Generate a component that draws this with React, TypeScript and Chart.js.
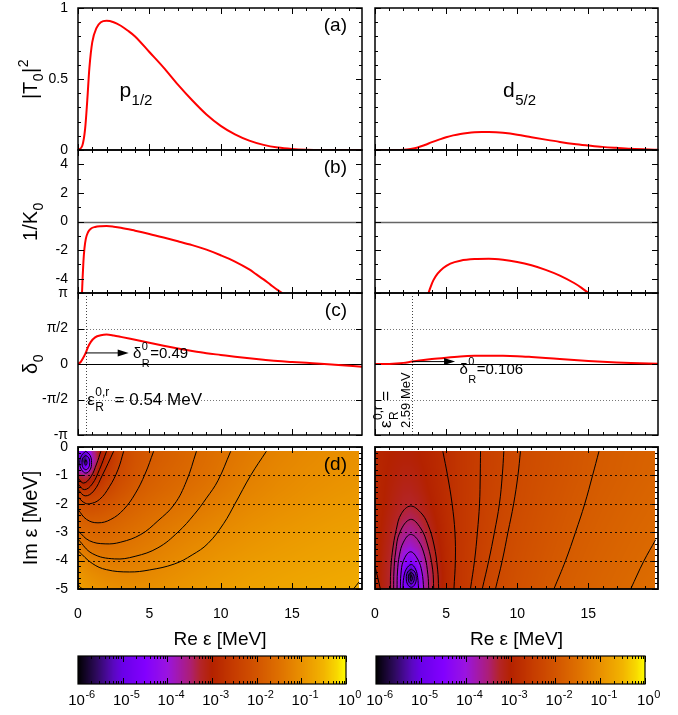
import React, { useEffect, useRef } from 'react';
import { Chart, registerables } from 'chart.js';

Chart.register(...registerables);

const FONT = '"Liberation Sans", Arial, Helvetica, sans-serif';
const FIG_W = 678;
const FIG_H = 715;
const X_MAX = 19.9;
const PI = Math.PI;

// ---------- tick values / labels ----------
const xMajorTicks = [0, 5, 10, 15];
const xMinorTicks = [1, 2, 3, 4, 6, 7, 8, 9, 11, 12, 13, 14, 16, 17, 18, 19];
const xTickLabels = ['0', '5', '10', '15'];
const aYTicks = [0, 0.5, 1];
const aYLabels = ['0', '0.5', '1'];
const aYMinor = [0.1, 0.2, 0.3, 0.4, 0.6, 0.7, 0.8, 0.9];
const bYTicks = [-4, -2, 0, 2, 4];
const bYLabels = ['-4', '-2', '0', '2', '4'];
const bYMinor = [-3, -1, 1, 3];
const cYTicks = [-PI, -PI / 2, 0, PI / 2, PI];
const cYLabels = ['-π', '-π/2', '0', 'π/2', 'π'];
const dYTicks = [0, -1, -2, -3, -4, -5];
const dYLabels = ['0', '-1', '-2', '-3', '-4', '-5'];
const dYMinor = [-0.2, -0.4, -0.6, -0.8, -1.2, -1.4, -1.6, -1.8, -2.2, -2.4, -2.6, -2.8, -3.2, -3.4, -3.6, -3.8, -4.2, -4.4, -4.6, -4.8];
const cbDecades = [-6, -5, -4, -3, -2, -1, 0];
const cbExponents = ['-6', '-5', '-4', '-3', '-2', '-1', '0'];

// ---------- (a) |T0|^2 ----------
const aP_x = [0, 0.3, 0.5, 0.65, 0.8, 1.0, 1.3, 1.6, 2.0, 2.5, 3.0, 3.5, 4, 5, 6, 7, 8, 9, 10, 11, 12, 13, 14, 15, 16, 17, 19.9];
const aP_y = [0, 0.03, 0.15, 0.35, 0.58, 0.76, 0.86, 0.9, 0.91, 0.9, 0.875, 0.84, 0.8, 0.69, 0.58, 0.46, 0.35, 0.25, 0.17, 0.11, 0.066, 0.036, 0.017, 0.007, 0.002, 0, 0];
const aD_x = [0, 1.5, 2, 2.5, 3, 3.5, 4, 4.5, 5, 5.5, 6, 6.5, 7, 7.5, 8, 8.5, 9, 10, 11, 12, 13, 14, 15, 16, 17, 18, 19.9];
const aD_y = [0, 0, 0.002, 0.008, 0.018, 0.035, 0.055, 0.073, 0.09, 0.103, 0.113, 0.12, 0.125, 0.127, 0.127, 0.125, 0.121, 0.108, 0.09, 0.073, 0.057, 0.043, 0.032, 0.022, 0.015, 0.009, 0.002];

// ---------- (b) 1/K0 ----------
const bP_x = [0.28, 0.33, 0.38, 0.45, 0.55, 0.7, 0.9, 1.2, 1.6, 2.0, 2.5, 3, 4, 5, 6, 7, 8, 9, 10, 11, 12, 12.5, 13, 13.5, 14, 14.3];
const bP_y = [-5, -3.8, -2.8, -1.9, -1.2, -0.75, -0.5, -0.38, -0.33, -0.32, -0.36, -0.43, -0.64, -0.87, -1.12, -1.38, -1.65, -1.97, -2.36, -2.8, -3.35, -3.7, -4.05, -4.43, -4.8, -5];
const bD_x = [3.76, 3.9, 4.1, 4.4, 4.8, 5.3, 6, 7, 8, 9, 10, 11, 12, 13, 14, 14.5, 15];
const bD_y = [-5, -4.6, -4.12, -3.65, -3.25, -2.94, -2.74, -2.63, -2.61, -2.68, -2.83, -3.06, -3.38, -3.78, -4.3, -4.62, -5];

// ---------- (c) delta0 ----------
const cP_x = [0, 0.2, 0.35, 0.54, 0.7, 0.9, 1.2, 1.6, 2.0, 2.5, 3, 4, 5, 6, 7, 8, 9, 10, 11, 12, 13, 14, 15, 16, 17, 18, 19.9];
const cP_y = [0, 0.1, 0.25, 0.49, 0.75, 0.98, 1.18, 1.27, 1.3, 1.26, 1.2, 1.07, 0.94, 0.81, 0.69, 0.58, 0.48, 0.4, 0.32, 0.25, 0.19, 0.13, 0.09, 0.05, 0.015, -0.03, -0.12];
const cD_x = [0, 1, 1.5, 2, 2.59, 3, 4, 5, 6, 7, 8, 9, 10, 11, 12, 13, 14, 15, 16, 17, 18, 19.9];
const cD_y = [0, 0.005, 0.02, 0.05, 0.106, 0.14, 0.22, 0.28, 0.33, 0.36, 0.37, 0.365, 0.345, 0.31, 0.27, 0.22, 0.175, 0.135, 0.1, 0.07, 0.045, 0.015];
const resP = { e: 0.54, d: 0.49, arrowTo: 3.55 };
const resD = { e: 2.59, d: 0.106, arrowTo: 5.63 };

// ---------- (d) heat maps: log10 values ----------
const heat_ys = [0, -0.5, -1, -1.5, -2, -2.5, -3, -3.5, -4, -4.5, -5];
const heatL_xs = [0, 0.5, 1, 1.5, 2, 3, 4, 5, 6, 8, 10, 12, 14, 16, 18, 20];
const heatL_z = [
  [-4.0, -4.6, -3.6, -3.1, -2.8, -2.3, -2.05, -1.92, -1.82, -1.66, -1.5, -1.35, -1.22, -1.12, -1.05, -1.0],
  [-4.6, -5.8, -3.9, -3.1, -2.75, -2.28, -2.03, -1.9, -1.8, -1.64, -1.47, -1.31, -1.18, -1.09, -1.02, -0.97],
  [-3.3, -3.5, -3.2, -2.8, -2.55, -2.2, -1.98, -1.84, -1.74, -1.6, -1.43, -1.26, -1.14, -1.05, -0.99, -0.94],
  [-2.55, -2.65, -2.6, -2.45, -2.3, -2.05, -1.88, -1.76, -1.67, -1.52, -1.36, -1.2, -1.09, -1.01, -0.95, -0.9],
  [-2.05, -2.15, -2.15, -2.1, -2.03, -1.88, -1.75, -1.65, -1.56, -1.42, -1.27, -1.13, -1.03, -0.96, -0.9, -0.86],
  [-1.8, -1.86, -1.88, -1.86, -1.82, -1.72, -1.62, -1.53, -1.45, -1.31, -1.17, -1.05, -0.97, -0.91, -0.86, -0.82],
  [-1.62, -1.66, -1.68, -1.68, -1.66, -1.58, -1.5, -1.42, -1.34, -1.2, -1.08, -0.98, -0.91, -0.86, -0.81, -0.78],
  [-1.3, -1.45, -1.5, -1.52, -1.51, -1.46, -1.39, -1.32, -1.24, -1.11, -1.0, -0.92, -0.86, -0.81, -0.77, -0.74],
  [-1.05, -1.15, -1.25, -1.3, -1.33, -1.32, -1.28, -1.22, -1.15, -1.03, -0.93, -0.86, -0.81, -0.77, -0.73, -0.7],
  [-0.9, -0.98, -1.05, -1.1, -1.14, -1.17, -1.16, -1.12, -1.06, -0.96, -0.88, -0.81, -0.76, -0.72, -0.69, -0.66],
  [-0.8, -0.85, -0.9, -0.94, -0.98, -1.02, -1.03, -1.01, -0.97, -0.89, -0.82, -0.76, -0.72, -0.68, -0.65, -0.62],
];
const heatR_xs = [0, 1, 1.5, 2, 2.5, 3, 3.5, 4, 5, 6, 8, 10, 12, 14, 16, 18, 20];
const heatR_z = [
  [-2.9, -2.98, -3.0, -3.02, -3.02, -3.0, -2.95, -2.9, -2.77, -2.62, -2.4, -2.22, -2.1, -1.98, -1.88, -1.8, -1.73],
  [-2.9, -3.0, -3.03, -3.05, -3.05, -3.02, -2.97, -2.91, -2.78, -2.62, -2.4, -2.22, -2.09, -1.97, -1.87, -1.79, -1.72],
  [-2.9, -3.02, -3.06, -3.1, -3.1, -3.07, -3.0, -2.93, -2.78, -2.62, -2.39, -2.21, -2.08, -1.96, -1.86, -1.78, -1.71],
  [-2.9, -3.04, -3.1, -3.16, -3.17, -3.12, -3.04, -2.96, -2.79, -2.62, -2.38, -2.2, -2.06, -1.94, -1.84, -1.76, -1.69],
  [-2.9, -3.06, -3.15, -3.22, -3.25, -3.2, -3.1, -3.0, -2.8, -2.62, -2.37, -2.19, -2.04, -1.92, -1.82, -1.74, -1.67],
  [-2.9, -3.1, -3.22, -3.35, -3.4, -3.33, -3.2, -3.06, -2.82, -2.62, -2.36, -2.17, -2.02, -1.9, -1.8, -1.72, -1.65],
  [-2.9, -3.14, -3.32, -3.55, -3.62, -3.5, -3.32, -3.13, -2.84, -2.62, -2.35, -2.15, -2.0, -1.88, -1.78, -1.7, -1.63],
  [-2.9, -3.18, -3.45, -3.8, -3.92, -3.75, -3.47, -3.2, -2.86, -2.62, -2.33, -2.13, -1.98, -1.86, -1.76, -1.68, -1.61],
  [-2.9, -3.22, -3.58, -4.15, -4.45, -4.1, -3.62, -3.27, -2.88, -2.62, -2.32, -2.11, -1.96, -1.84, -1.74, -1.66, -1.59],
  [-2.9, -3.25, -3.7, -4.6, -5.8, -4.6, -3.75, -3.32, -2.9, -2.62, -2.3, -2.09, -1.94, -1.82, -1.72, -1.64, -1.57],
  [-2.9, -3.25, -3.66, -4.4, -4.9, -4.4, -3.7, -3.3, -2.9, -2.62, -2.29, -2.07, -1.92, -1.8, -1.7, -1.62, -1.55],
];
const heatExtent = { x0: 0, x1: 19.7, y0: -0.15, y1: -5 };

// ---------- (d) contour lines ----------
const ctrLeft = [
  [[0, -3.65], [1, -4.1], [2, -4.32], [3.6, -4.4], [5, -4.33], [6.75, -4.12], [8, -3.8], [9.1, -3.4], [10.2, -2.7], [11, -2.0], [12.1, -1.0], [13.2, -0.15]],
  [[0, -3.25], [1, -3.75], [2.55, -3.94], [4, -3.85], [5.6, -3.55], [7, -3.0], [8.15, -2.37], [9, -1.8], [9.8, -1.19], [10.7, -0.15]],
  [[0, -2.95], [0.8, -3.3], [1.9, -3.41], [3, -3.35], [4.4, -3.08], [5.6, -2.6], [6.75, -2.02], [7.6, -1.2], [8.3, -0.15]],
  [[0, -2.2], [0.6, -2.55], [1.4, -2.67], [2.3, -2.55], [3.2, -2.2], [4.0, -1.65], [4.7, -0.95], [5.3, -0.15]],
  [[0, -1.75], [0.4, -1.95], [0.8, -2.0], [1.5, -1.85], [2.2, -1.4], [2.8, -0.8], [3.2, -0.15]],
  [[0, -1.5], [0.5, -1.72], [1.1, -1.55], [1.7, -1.0], [2.5, -0.15]],
  [[0, -1.3], [0.45, -1.5], [1.0, -1.3], [1.5, -0.8], [2.0, -0.15]],
  [[0, -1.1], [0.4, -1.27], [0.9, -1.05], [1.3, -0.6], [1.6, -0.15]],
  [[0.55, -0.15], [0.85, -0.3], [0.95, -0.55], [0.85, -0.8], [0.55, -0.92], [0.25, -0.8], [0.12, -0.55], [0.25, -0.3], [0.55, -0.15]],
  [[0.55, -0.3], [0.75, -0.38], [0.82, -0.55], [0.75, -0.72], [0.55, -0.8], [0.35, -0.72], [0.28, -0.55], [0.35, -0.38], [0.55, -0.3]],
  [[0.55, -0.45], [0.63, -0.55], [0.55, -0.65], [0.47, -0.55], [0.55, -0.45]],
  [[0, -4.85], [0.3, -5]],
  [[19.3, -5], [19.7, -4.75]],
];
const ctrRight = [
  [[4.77, -0.15], [5.1, -1.0], [5.42, -2.0], [5.62, -3.0], [5.65, -4.0], [5.55, -5]],
  [[7.42, -0.15], [7.4, -1.0], [7.35, -2.0], [7.2, -3.0], [7.0, -4.0], [6.71, -5]],
  [[9.06, -0.15], [8.95, -1.0], [8.75, -2.0], [8.4, -3.0], [8.0, -4.0], [7.54, -5]],
  [[10.23, -0.15], [10.05, -1.0], [9.75, -2.0], [9.35, -3.0], [8.95, -4.0], [8.47, -5]],
  [[15.75, -0.15], [15.3, -1.0], [14.75, -2.0], [14.1, -3.0], [13.4, -4.0], [12.58, -5]],
  [[19.74, -3.26], [18.9, -4.02], [17.98, -5]],
  [[0, -4.2], [0.38, -5]],
  [[1.08, -5], [1.1, -4.4], [1.22, -3.7], [1.5, -2.9], [1.85, -2.35], [2.49, -2.08], [3.2, -2.3], [3.7, -2.7], [4.15, -3.45], [4.4, -4.3], [4.48, -5]],
  [[1.31, -5], [1.33, -4.4], [1.45, -3.7], [1.75, -3.0], [2.49, -2.55], [3.2, -2.85], [3.7, -3.45], [4.05, -4.3], [4.13, -5]],
  [[1.55, -5], [1.58, -4.4], [1.72, -3.8], [2.0, -3.35], [2.49, -3.08], [3.05, -3.3], [3.5, -3.85], [3.72, -4.5], [3.78, -5]],
  [[1.78, -5], [1.82, -4.5], [2.0, -4.0], [2.49, -3.69], [3.0, -3.95], [3.3, -4.4], [3.43, -5]],
  [[1.96, -5], [2.02, -4.6], [2.2, -4.3], [2.55, -4.14], [2.85, -4.3], [3.0, -4.6], [3.06, -5]],
  [[2.55, -4.3], [2.8, -4.4], [2.9, -4.62], [2.8, -4.84], [2.55, -4.94], [2.3, -4.84], [2.2, -4.62], [2.3, -4.4], [2.55, -4.3]],
  [[2.55, -4.42], [2.7, -4.48], [2.76, -4.62], [2.7, -4.76], [2.55, -4.82], [2.4, -4.76], [2.34, -4.62], [2.4, -4.48], [2.55, -4.42]],
  [[2.55, -4.52], [2.63, -4.62], [2.55, -4.72], [2.47, -4.62], [2.55, -4.52]],
];

// ---------- colour map (log10 value -> colour) ----------
const cmapPos = [-6, -5.6, -5.2, -5, -4.5, -4, -3.5, -3.25, -3, -2.5, -2, -1.5, -1, -0.5, -0.2, 0];
const cmapCol = ['#000000', '#2c0a5a', '#5a08c0', '#6a00e8', '#8200ff', '#9a14e0', '#ac1e78', '#b42428', '#b42200', '#c63c00', '#d25400', '#de7000', '#e99000', '#f2b400', '#f8d800', '#ffff00'];

// ---------- layout ----------
const COL_L = { l: 78, r: 362 };
const COL_R = { l: 375, r: 658 };
const ROW_A = { t: 8, b: 150 };
const ROW_B = { t: 150, b: 293 };
const ROW_C = { t: 293, b: 435 };
const ROW_D = { t: 447, b: 589 };
const CB_ROW = { t: 656, b: 684 };
const CB_L = { l: 78, r: 346 };
const CB_R = { l: 376, r: 645 };

// ---------- helpers ----------
const cmapRGB = cmapCol.map((h) => [parseInt(h.slice(1, 3), 16), parseInt(h.slice(3, 5), 16), parseInt(h.slice(5, 7), 16)]);
function cmap(v: number): number[] {
  const t = Math.max(-6, Math.min(0, v));
  for (let i = 0; i < cmapPos.length - 1; i++) {
    if (t <= cmapPos[i + 1]) {
      const f = (t - cmapPos[i]) / (cmapPos[i + 1] - cmapPos[i]);
      const a = cmapRGB[i], b = cmapRGB[i + 1];
      return [a[0] + (b[0] - a[0]) * f, a[1] + (b[1] - a[1]) * f, a[2] + (b[2] - a[2]) * f];
    }
  }
  return cmapRGB[cmapRGB.length - 1];
}

function bilinear(xs: number[], ys: number[], z: number[][], x: number, y: number) {
  let i = 0;
  while (i < xs.length - 2 && x > xs[i + 1]) i++;
  let j = 0;
  while (j < ys.length - 2 && y < ys[j + 1]) j++;
  const fx = Math.max(0, Math.min(1, (x - xs[i]) / (xs[i + 1] - xs[i])));
  const fy = Math.max(0, Math.min(1, (y - ys[j]) / (ys[j + 1] - ys[j])));
  const a = z[j][i], b = z[j][i + 1], c = z[j + 1][i], d = z[j + 1][i + 1];
  return a * (1 - fx) * (1 - fy) + b * fx * (1 - fy) + c * (1 - fx) * fy + d * fx * fy;
}

type Seg = { t?: string; sup?: string; sub?: string };
function drawRich(ctx: CanvasRenderingContext2D, segs: Seg[], x: number, y: number, size: number, align = 'left', supK = 0.45, subK = 0.3) {
  const small = Math.round(size * 0.7);
  const fBig = `${size}px ${FONT}`;
  const fSmall = `${small}px ${FONT}`;
  const widths = segs.map((s) => {
    if (s.t !== undefined) { ctx.font = fBig; return ctx.measureText(s.t).width; }
    ctx.font = fSmall;
    return Math.max(s.sup ? ctx.measureText(s.sup).width : 0, s.sub ? ctx.measureText(s.sub).width : 0) + 1;
  });
  const total = widths.reduce((p, q) => p + q, 0);
  let cx = align === 'left' ? x : align === 'center' ? x - total / 2 : x - total;
  ctx.textAlign = 'left';
  ctx.textBaseline = 'alphabetic';
  ctx.fillStyle = '#000';
  segs.forEach((s, i) => {
    if (s.t !== undefined) { ctx.font = fBig; ctx.fillText(s.t, cx, y); }
    else {
      ctx.font = fSmall;
      if (s.sup) ctx.fillText(s.sup, cx + 0.5, y - size * supK);
      if (s.sub) ctx.fillText(s.sub, cx + 0.5, y + size * subK);
    }
    cx += widths[i];
  });
}

function drawRotTitle(ctx: CanvasRenderingContext2D, segs: Seg[], cx: number, cy: number, size: number) {
  ctx.save();
  ctx.translate(cx + size * 0.35, cy);
  ctx.rotate(-Math.PI / 2);
  drawRich(ctx, segs, 0, 0, size, 'center');
  ctx.restore();
}

function drawArrow(ctx: CanvasRenderingContext2D, x1: number, y1: number, x2: number, y2: number) {
  ctx.save();
  ctx.strokeStyle = '#000';
  ctx.fillStyle = '#000';
  ctx.lineWidth = 1;
  ctx.beginPath();
  ctx.moveTo(x1, y1);
  ctx.lineTo(x2 - 8, y2);
  ctx.stroke();
  ctx.beginPath();
  ctx.moveTo(x2, y2);
  ctx.lineTo(x2 - 11, y2 - 3.5);
  ctx.lineTo(x2 - 11, y2 + 3.5);
  ctx.closePath();
  ctx.fill();
  ctx.restore();
}

function hLine(c: any, v: number, color: string, width: number, dash: number[]) {
  const { ctx, chartArea: a, scales } = c;
  const p = Math.round(scales.y.getPixelForValue(v)) + 0.5;
  ctx.save();
  ctx.strokeStyle = color; ctx.lineWidth = width; ctx.setLineDash(dash);
  ctx.beginPath(); ctx.moveTo(a.left, p); ctx.lineTo(a.right, p); ctx.stroke();
  ctx.restore();
}
function vLine(c: any, v: number, color: string, width: number, dash: number[]) {
  const { ctx, chartArea: a, scales } = c;
  const p = Math.round(scales.x.getPixelForValue(v)) + 0.5;
  ctx.save();
  ctx.strokeStyle = color; ctx.lineWidth = width; ctx.setLineDash(dash);
  ctx.beginPath(); ctx.moveTo(p, a.top); ctx.lineTo(p, a.bottom); ctx.stroke();
  ctx.restore();
}

function drawTicks(c: any, xMaj: number[], xMin: number[], yMaj: number[], yMin: number[], maj = 6, min = 3) {
  const { ctx, chartArea: a, scales: { x, y } } = c;
  ctx.save();
  ctx.strokeStyle = '#000'; ctx.lineWidth = 1; ctx.setLineDash([]);
  ctx.beginPath();
  const tx = (vals: number[], L: number) => vals.forEach((v) => {
    const p = Math.round(x.getPixelForValue(v)) + 0.5;
    ctx.moveTo(p, a.bottom); ctx.lineTo(p, a.bottom - L);
    ctx.moveTo(p, a.top); ctx.lineTo(p, a.top + L);
  });
  const ty = (vals: number[], L: number) => vals.forEach((v) => {
    const p = Math.round(y.getPixelForValue(v)) + 0.5;
    ctx.moveTo(a.left, p); ctx.lineTo(a.left + L, p);
    ctx.moveTo(a.right, p); ctx.lineTo(a.right - L, p);
  });
  tx(xMaj, maj); tx(xMin, min); ty(yMaj, maj); ty(yMin, min);
  ctx.stroke();
  ctx.restore();
}

function drawBorder(c: any, w = 1.5) {
  const { ctx, chartArea: a } = c;
  ctx.save();
  ctx.strokeStyle = '#000'; ctx.lineWidth = w; ctx.setLineDash([]);
  ctx.strokeRect(a.left, a.top, a.right - a.left, a.bottom - a.top);
  ctx.restore();
}

function yTickLabels(c: any, vals: number[], labels: string[]) {
  const { ctx, chartArea: a, scales: { y } } = c;
  ctx.save();
  ctx.font = `14px ${FONT}`; ctx.fillStyle = '#000';
  ctx.textAlign = 'right'; ctx.textBaseline = 'middle';
  vals.forEach((v, i) => ctx.fillText(labels[i], a.left - 10, y.getPixelForValue(v)));
  ctx.restore();
}

function xTickLabelsDraw(c: any) {
  const { ctx, chartArea: a, scales: { x } } = c;
  ctx.save();
  ctx.font = `14px ${FONT}`; ctx.fillStyle = '#000';
  ctx.textAlign = 'center'; ctx.textBaseline = 'alphabetic';
  xMajorTicks.forEach((v, i) => ctx.fillText(xTickLabels[i], x.getPixelForValue(v), a.bottom + 29));
  ctx.restore();
  drawRich(ctx, [{ t: 'Re ε [MeV]' }], (a.left + a.right) / 2, a.bottom + 56, 19, 'center');
}

function panelTag(c: any, tag: string) {
  const { ctx, chartArea: a } = c;
  ctx.save();
  ctx.font = `19px ${FONT}`; ctx.fillStyle = '#000';
  ctx.textAlign = 'right'; ctx.textBaseline = 'alphabetic';
  ctx.fillText(tag, a.right - 15, a.top + 23);
  ctx.restore();
}

function drawHeat(c: any, xs: number[], ys: number[], z: number[][]) {
  const { ctx, scales: { x, y } } = c;
  const pl = Math.round(x.getPixelForValue(heatExtent.x0));
  const pr = Math.round(x.getPixelForValue(heatExtent.x1));
  const pt = Math.round(y.getPixelForValue(heatExtent.y0));
  const pb = Math.round(y.getPixelForValue(heatExtent.y1));
  const w = pr - pl, h = pb - pt;
  const off = document.createElement('canvas');
  off.width = w; off.height = h;
  const octx = off.getContext('2d')!;
  const img = octx.createImageData(w, h);
  for (let j = 0; j < h; j++) {
    const vy = y.getValueForPixel(pt + j + 0.5);
    for (let i = 0; i < w; i++) {
      const vx = x.getValueForPixel(pl + i + 0.5);
      const col = cmap(bilinear(xs, ys, z, vx, vy));
      const k = (j * w + i) * 4;
      img.data[k] = col[0]; img.data[k + 1] = col[1]; img.data[k + 2] = col[2]; img.data[k + 3] = 255;
    }
  }
  octx.putImageData(img, 0, 0);
  ctx.drawImage(off, pl, pt);
}

function redLine(xs: number[], ys: number[]) {
  return {
    data: xs.map((x, i) => ({ x, y: ys[i] })),
    showLine: true, borderColor: '#ff0000', borderWidth: 2, pointRadius: 0,
    cubicInterpolationMode: 'monotone', fill: false,
  };
}
function contourLines(list: number[][][]) {
  return list.map((pts) => ({
    data: pts.map(([x, y]) => ({ x, y })),
    showLine: true, borderColor: '#000', borderWidth: 1, pointRadius: 0, tension: 0.4, fill: false,
  }));
}

type Spec = {
  col: { l: number; r: number }; row: { t: number; b: number };
  xMin: number; xMax: number; yMin: number; yMax: number;
  datasets: any[];
  under?: (c: any) => void;
  over?: (c: any) => void;
};

const dotGrid = [1, 2];

function panelSpecs(): Spec[] {
  return [
    // (a) left
    {
      col: COL_L, row: ROW_A, xMin: 0, xMax: X_MAX, yMin: 0, yMax: 1,
      datasets: [redLine(aP_x, aP_y)],
      over: (c) => {
        drawTicks(c, xMajorTicks, xMinorTicks, aYTicks, aYMinor); drawBorder(c);
        yTickLabels(c, aYTicks, aYLabels);
        drawRotTitle(c.ctx, [{ t: '|T' }, { sub: '0' }, { t: '|' }, { sup: '2' }], 30, (ROW_A.t + ROW_A.b) / 2, 20);
        panelTag(c, '(a)');
        drawRich(c.ctx, [{ t: 'p' }, { sub: '1/2' }], c.scales.x.getPixelForValue(2.9), c.scales.y.getPixelForValue(0.37), 21, 'left', 0.45, 0.38);
      },
    },
    // (a) right
    {
      col: COL_R, row: ROW_A, xMin: 0, xMax: X_MAX, yMin: 0, yMax: 1,
      datasets: [redLine(aD_x, aD_y)],
      over: (c) => {
        drawTicks(c, xMajorTicks, xMinorTicks, aYTicks, aYMinor); drawBorder(c);
        drawRich(c.ctx, [{ t: 'd' }, { sub: '5/2' }], c.scales.x.getPixelForValue(9.0), c.scales.y.getPixelForValue(0.37), 21, 'left', 0.45, 0.38);
      },
    },
    // (b) left
    {
      col: COL_L, row: ROW_B, xMin: 0, xMax: X_MAX, yMin: -5, yMax: 5,
      datasets: [redLine(bP_x, bP_y)],
      under: (c) => hLine(c, 0, '#666', 1.4, []),
      over: (c) => {
        drawTicks(c, xMajorTicks, xMinorTicks, bYTicks, bYMinor); drawBorder(c);
        yTickLabels(c, bYTicks, bYLabels);
        drawRotTitle(c.ctx, [{ t: '1/K' }, { sub: '0' }], 30, (ROW_B.t + ROW_B.b) / 2, 20);
        panelTag(c, '(b)');
      },
    },
    // (b) right
    {
      col: COL_R, row: ROW_B, xMin: 0, xMax: X_MAX, yMin: -5, yMax: 5,
      datasets: [redLine(bD_x, bD_y)],
      under: (c) => hLine(c, 0, '#666', 1.4, []),
      over: (c) => { drawTicks(c, xMajorTicks, xMinorTicks, bYTicks, bYMinor); drawBorder(c); },
    },
    // (c) left
    {
      col: COL_L, row: ROW_C, xMin: 0, xMax: X_MAX, yMin: -PI, yMax: PI,
      datasets: [redLine(cP_x, cP_y)],
      under: (c) => {
        hLine(c, PI / 2, '#777', 1, dotGrid); hLine(c, -PI / 2, '#777', 1, dotGrid);
        hLine(c, 0, '#000', 1, []);
        vLine(c, resP.e, '#444', 1, dotGrid);
      },
      over: (c) => {
        drawTicks(c, xMajorTicks, xMinorTicks, cYTicks, []); drawBorder(c);
        yTickLabels(c, cYTicks, cYLabels);
        drawRotTitle(c.ctx, [{ t: 'δ' }, { sub: '0' }], 30, (ROW_C.t + ROW_C.b) / 2, 20);
        panelTag(c, '(c)');
        const x = c.scales.x, y = c.scales.y;
        drawArrow(c.ctx, x.getPixelForValue(resP.e), y.getPixelForValue(resP.d), x.getPixelForValue(resP.arrowTo), y.getPixelForValue(resP.d));
        drawRich(c.ctx, [{ t: 'δ' }, { sup: '0', sub: 'R' }, { t: '=' + resP.d.toFixed(2) }], x.getPixelForValue(3.85), y.getPixelForValue(resP.d) + 5, 15, 'left', 0.55, 0.6);
        drawRich(c.ctx, [{ t: 'ε' }, { sup: '0,r', sub: 'R' }, { t: ' = ' + resP.e.toFixed(2) + ' MeV' }], x.getPixelForValue(0.65), y.getPixelForValue(-PI / 2) + 5, 17, 'left', 0.5, 0.4);
      },
    },
    // (c) right
    {
      col: COL_R, row: ROW_C, xMin: 0, xMax: X_MAX, yMin: -PI, yMax: PI,
      datasets: [redLine(cD_x, cD_y)],
      under: (c) => {
        hLine(c, PI / 2, '#777', 1, dotGrid); hLine(c, -PI / 2, '#777', 1, dotGrid);
        hLine(c, 0, '#000', 1, []);
        vLine(c, resD.e, '#444', 1, dotGrid);
      },
      over: (c) => {
        drawTicks(c, xMajorTicks, xMinorTicks, cYTicks, []); drawBorder(c);
        const x = c.scales.x, y = c.scales.y;
        drawArrow(c.ctx, x.getPixelForValue(resD.e), y.getPixelForValue(resD.d), x.getPixelForValue(resD.arrowTo), y.getPixelForValue(resD.d));
        drawRich(c.ctx, [{ t: 'δ' }, { sup: '0', sub: 'R' }, { t: '=' + resD.d.toFixed(3) }], x.getPixelForValue(5.94), y.getPixelForValue(resD.d) + 12, 15, 'left', 0.55, 0.6);
        const ex = x.getPixelForValue(resD.e);
        const by = c.chartArea.bottom - 7;
        const ctx = c.ctx;
        ctx.save(); ctx.translate(ex - 21, by); ctx.rotate(-Math.PI / 2);
        drawRich(ctx, [{ t: 'ε' }, { sup: '0,r', sub: 'R' }, { t: ' =' }], 0, 0, 17, 'left', 0.5, 0.4);
        ctx.restore();
        ctx.save(); ctx.translate(ex - 1.5, by); ctx.rotate(-Math.PI / 2);
        drawRich(ctx, [{ t: resD.e.toFixed(2) + ' MeV' }], 0, 0, 13, 'left');
        ctx.restore();
      },
    },
    // (d) left
    {
      col: COL_L, row: ROW_D, xMin: 0, xMax: X_MAX, yMin: -5, yMax: 0,
      datasets: contourLines(ctrLeft),
      under: (c) => {
        drawHeat(c, heatL_xs, heat_ys, heatL_z);
        [-1, -2, -3, -4].forEach((v) => hLine(c, v, 'rgba(0,0,0,0.85)', 1, [2, 3]));
      },
      over: (c) => {
        drawTicks(c, xMajorTicks, xMinorTicks, dYTicks, dYMinor); drawBorder(c, 1.8);
        yTickLabels(c, dYTicks, dYLabels);
        drawRotTitle(c.ctx, [{ t: 'Im ε [MeV]' }], 30, (ROW_D.t + ROW_D.b) / 2, 20);
        panelTag(c, '(d)');
        xTickLabelsDraw(c);
      },
    },
    // (d) right
    {
      col: COL_R, row: ROW_D, xMin: 0, xMax: X_MAX, yMin: -5, yMax: 0,
      datasets: contourLines(ctrRight),
      under: (c) => {
        drawHeat(c, heatR_xs, heat_ys, heatR_z);
        [-1, -2, -3, -4].forEach((v) => hLine(c, v, 'rgba(0,0,0,0.85)', 1, [2, 3]));
      },
      over: (c) => {
        drawTicks(c, xMajorTicks, xMinorTicks, dYTicks, dYMinor); drawBorder(c, 1.8);
        xTickLabelsDraw(c);
      },
    },
  ];
}

const cbMinorOffsets = [2, 3, 4, 5, 6, 7, 8, 9].map((k) => Math.log10(k));

function colorbarSpec(col: { l: number; r: number }): Spec {
  return {
    col, row: CB_ROW, xMin: -6, xMax: 0, yMin: 0, yMax: 1, datasets: [],
    under: (c) => {
      const { ctx, chartArea: a, scales: { x } } = c;
      for (let p = a.left; p < a.right; p++) {
        const col2 = cmap(x.getValueForPixel(p + 0.5));
        ctx.fillStyle = `rgb(${Math.round(col2[0])},${Math.round(col2[1])},${Math.round(col2[2])})`;
        ctx.fillRect(p, a.top, 1, a.bottom - a.top);
      }
    },
    over: (c) => {
      const minors: number[] = [];
      cbDecades.slice(0, -1).forEach((d) => cbMinorOffsets.forEach((o) => minors.push(d + o)));
      drawTicks(c, cbDecades, minors, [], [], 6, 3);
      drawBorder(c, 1.2);
      const { ctx, chartArea: a, scales: { x } } = c;
      cbDecades.forEach((d, i) => {
        drawRich(ctx, [{ t: '10' }, { sup: cbExponents[i] }], x.getPixelForValue(d) + 4, a.bottom + 21, 15, 'center', 0.5);
      });
    },
  };
}

function makeChart(canvas: HTMLCanvasElement, s: Spec) {
  return new Chart(canvas, {
    type: 'scatter',
    data: { datasets: s.datasets },
    options: {
      animation: false,
      responsive: false,
      events: [],
      layout: { padding: { left: s.col.l, right: FIG_W - s.col.r, top: s.row.t, bottom: FIG_H - s.row.b } },
      scales: {
        x: { type: 'linear', display: false, min: s.xMin, max: s.xMax },
        y: { type: 'linear', display: false, min: s.yMin, max: s.yMax },
      },
      plugins: { legend: { display: false }, tooltip: { enabled: false } },
    } as any,
    plugins: [{
      id: 'deco',
      beforeDatasetsDraw(chart: any) {
        chart.ctx.save();
        if (s.under) s.under(chart);
        chart.ctx.restore();
      },
      afterDatasetsDraw(chart: any) {
        chart.ctx.save();
        if (s.over) s.over(chart);
        chart.ctx.restore();
      },
    }],
  });
}

const allSpecs: Spec[] = [...panelSpecs(), colorbarSpec(CB_L), colorbarSpec(CB_R)];

export default function App() {
  const refs = useRef<(HTMLCanvasElement | null)[]>([]);
  useEffect(() => {
    const charts = allSpecs.map((s, i) => makeChart(refs.current[i] as HTMLCanvasElement, s));
    return () => charts.forEach((ch) => ch.destroy());
  }, []);
  return (
    <div style={{ position: 'fixed', left: 0, top: 0, width: FIG_W, height: FIG_H, background: '#fff', overflow: 'hidden' }}>
      {allSpecs.map((s, i) => (
        <canvas
          key={i}
          ref={(el) => { refs.current[i] = el; }}
          width={FIG_W}
          height={FIG_H}
          style={{ position: 'absolute', left: 0, top: 0, width: FIG_W, height: FIG_H }}
        />
      ))}
    </div>
  );
}
